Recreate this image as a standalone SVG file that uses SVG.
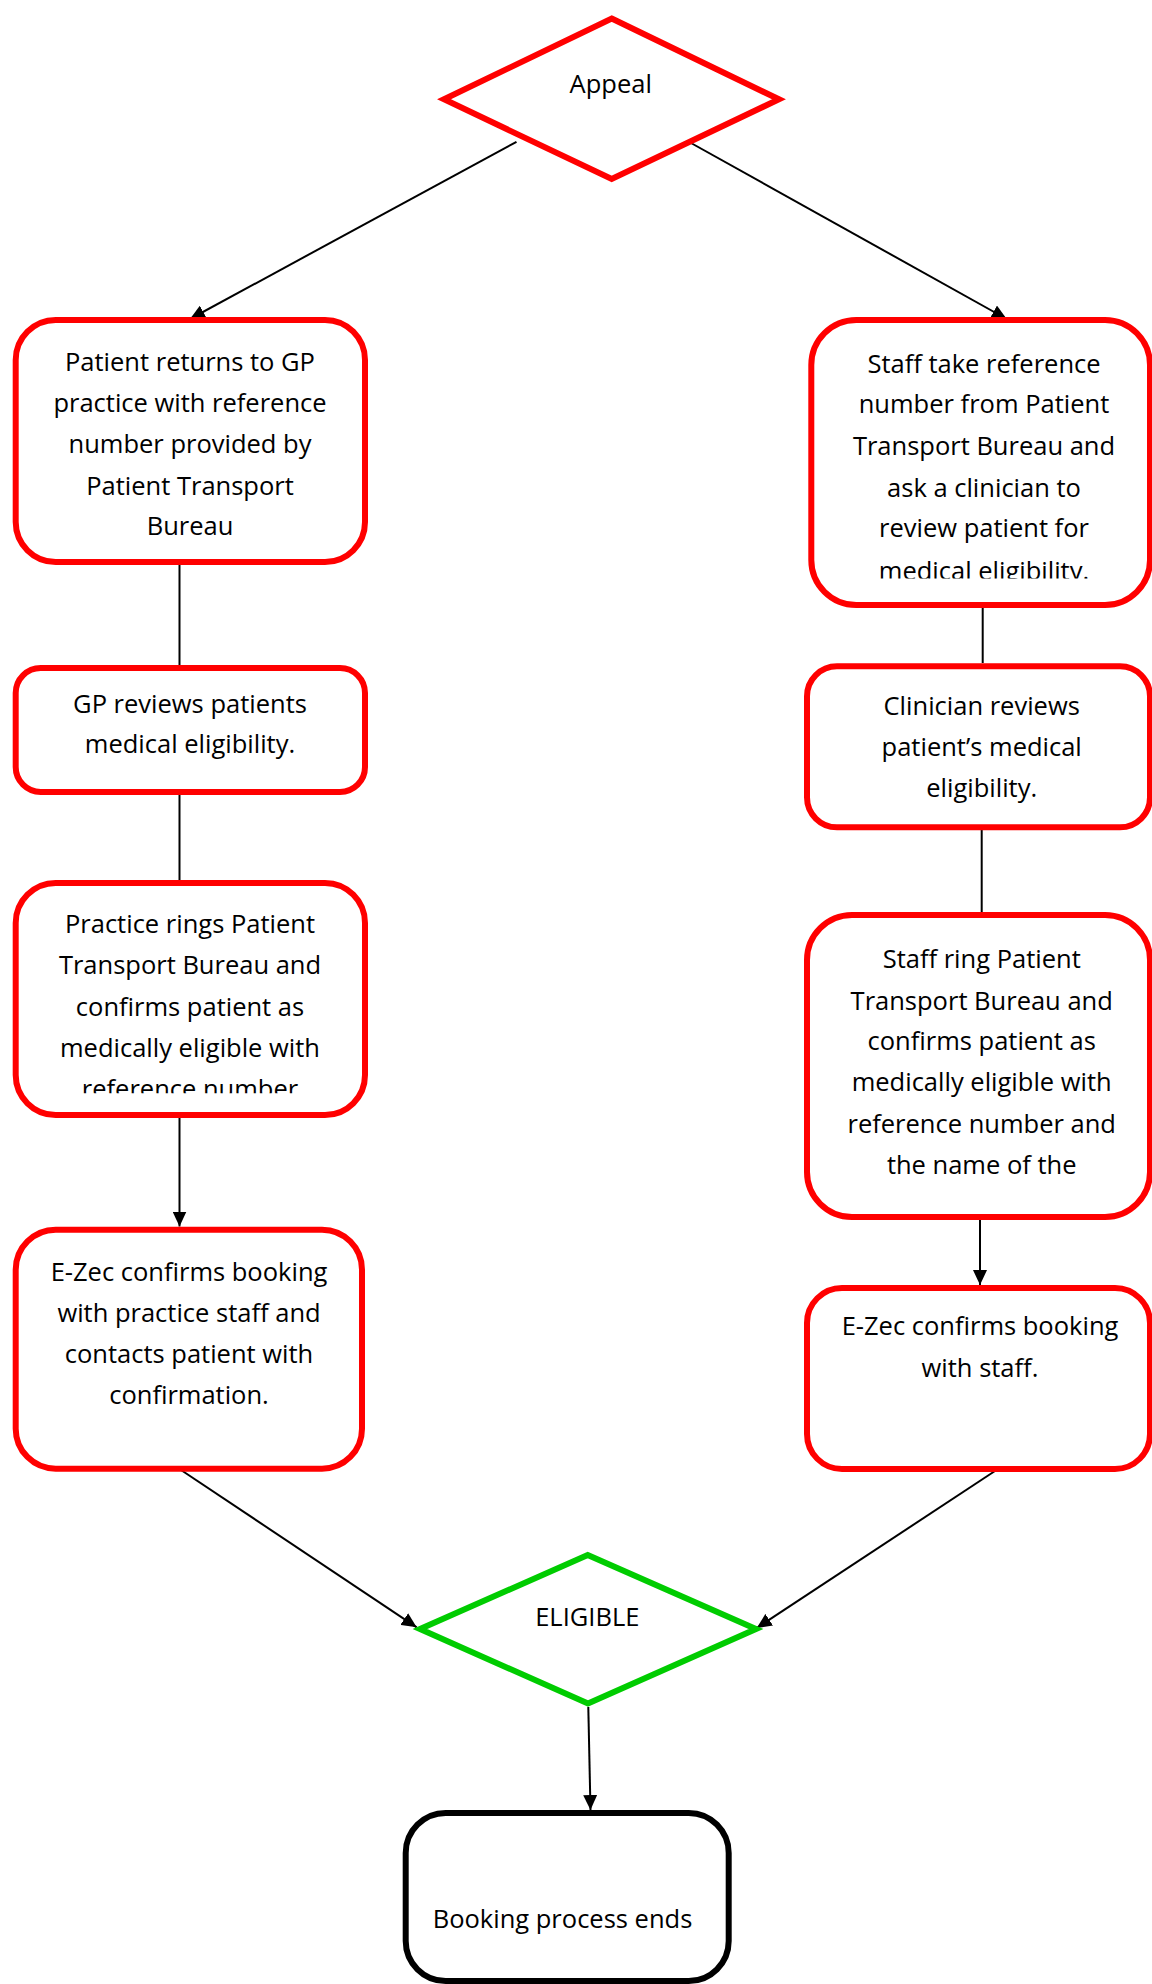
<svg xmlns="http://www.w3.org/2000/svg" width="1152" height="1984" viewBox="0 0 1152 1984">
<style>
.box{fill:#fff;stroke:#ff0000;stroke-width:6}
.dec{fill:#fff;stroke-width:6;stroke-linejoin:miter}
.t{font-family:"Open Sans","Liberation Sans",sans-serif;font-size:25.5px;fill:#000;text-anchor:middle}
.c{fill:none;stroke:#000;stroke-width:2}
</style>
<defs>
<marker id="ah" markerUnits="userSpaceOnUse" markerWidth="16" markerHeight="14" refX="15" refY="7" orient="auto">
<path d="M0,0 L15,7 L0,14 z" fill="#000"/>
</marker>
<clipPath id="clipR1"><rect x="800" y="300" width="352" height="278.5"/></clipPath>
<clipPath id="clipL3"><rect x="0" y="870" width="380" height="223.3"/></clipPath>
</defs>
<rect width="1152" height="1984" fill="#fff"/>
<g id="connectors">
<line class="c" x1="516.5" y1="141.8" x2="190" y2="319" marker-end="url(#ah)"/>
<line class="c" x1="691" y1="143" x2="1006.7" y2="319" marker-end="url(#ah)"/>
<line class="c" x1="179.5" y1="565" x2="179.5" y2="665"/>
<line class="c" x1="179.5" y1="795" x2="179.5" y2="880"/>
<line class="c" x1="179.5" y1="1118" x2="179.5" y2="1226.5" marker-end="url(#ah)"/>
<line class="c" x1="181" y1="1470" x2="416.7" y2="1627.3" marker-end="url(#ah)"/>
<line class="c" x1="982.7" y1="608" x2="982.7" y2="663"/>
<line class="c" x1="981.7" y1="830" x2="981.7" y2="912"/>
<line class="c" x1="980" y1="1220" x2="980" y2="1285" marker-end="url(#ah)"/>
<line class="c" x1="998" y1="1469" x2="756.7" y2="1628" marker-end="url(#ah)"/>
<line class="c" x1="588.3" y1="1707" x2="590.5" y2="1810" marker-end="url(#ah)"/>
</g>
<g id="appeal">
<polygon class="dec" stroke="#ff0000" points="611.7,18.5 779,99.3 611.7,179 444,99.3"/>
<text class="t" x="610.7" y="93">Appeal</text>
</g>
<g id="patient-returns">
<rect class="box" x="15.7" y="320" width="349.3" height="242" rx="40"/>
<text class="t" x="190" y="371">Patient returns to GP</text>
<text class="t" x="190" y="412">practice with reference</text>
<text class="t" x="190" y="453.3">number provided by</text>
<text class="t" x="190" y="495">Patient Transport</text>
<text class="t" x="190" y="535">Bureau</text>
</g>
<g id="gp-reviews">
<rect class="box" x="15.7" y="668" width="349.3" height="124" rx="25"/>
<text class="t" x="190" y="713.3">GP reviews patients</text>
<text class="t" x="190" y="753.3">medical eligibility.</text>
</g>
<g id="practice-rings">
<rect class="box" x="15.7" y="883" width="349.3" height="232" rx="40"/>
<text class="t" x="190" y="933.3">Practice rings Patient</text>
<text class="t" x="190" y="974.3">Transport Bureau and</text>
<text class="t" x="190" y="1015.7">confirms patient as</text>
<text class="t" x="190" y="1056.7">medically eligible with</text>
<text class="t" x="190" y="1098" clip-path="url(#clipL3)">reference number</text>
</g>
<g id="ezec-left">
<rect class="box" x="15.7" y="1229.7" width="346.3" height="239" rx="40"/>
<text class="t" x="189" y="1281">E-Zec confirms booking</text>
<text class="t" x="189" y="1321.7">with practice staff and</text>
<text class="t" x="189" y="1363.3">contacts patient with</text>
<text class="t" x="189" y="1404.3">confirmation.</text>
</g>
<g id="staff-take">
<rect class="box" x="811.3" y="320" width="338.7" height="285" rx="45"/>
<text class="t" x="984" y="372.7">Staff take reference</text>
<text class="t" x="984" y="413.3">number from Patient</text>
<text class="t" x="984" y="455">Transport Bureau and</text>
<text class="t" x="984" y="496.7">ask a clinician to</text>
<text class="t" x="984" y="537.3">review patient for</text>
<text class="t" x="984" y="580" clip-path="url(#clipR1)">medical eligibility.</text>
</g>
<g id="clinician-reviews">
<rect class="box" x="807" y="666.3" width="343" height="161" rx="30"/>
<text class="t" x="981.7" y="715">Clinician reviews</text>
<text class="t" x="981.7" y="756.4">patient’s medical</text>
<text class="t" x="981.7" y="797.3">eligibility.</text>
</g>
<g id="staff-ring">
<rect class="box" x="807" y="915" width="343" height="302" rx="45"/>
<text class="t" x="981.7" y="967.6">Staff ring Patient</text>
<text class="t" x="981.7" y="1009.7">Transport Bureau and</text>
<text class="t" x="981.7" y="1050">confirms patient as</text>
<text class="t" x="981.7" y="1091">medically eligible with</text>
<text class="t" x="981.7" y="1133">reference number and</text>
<text class="t" x="981.7" y="1173.5">the name of the</text>
</g>
<g id="ezec-right">
<rect class="box" x="807" y="1288" width="343" height="181" rx="35"/>
<text class="t" x="980" y="1335">E-Zec confirms booking</text>
<text class="t" x="980" y="1376.7">with staff.</text>
</g>
<g id="eligible">
<polygon class="dec" stroke="#00cc00" points="587.7,1555 756,1629 588,1703.5 420,1629"/>
<text class="t" x="587.3" y="1626">ELIGIBLE</text>
</g>
<g id="booking-ends">
<rect x="405.7" y="1813" width="323" height="168" rx="40" fill="#fff" stroke="#000" stroke-width="6"/>
<text class="t" x="562.5" y="1928.3">Booking process ends</text>
</g>
</svg>
